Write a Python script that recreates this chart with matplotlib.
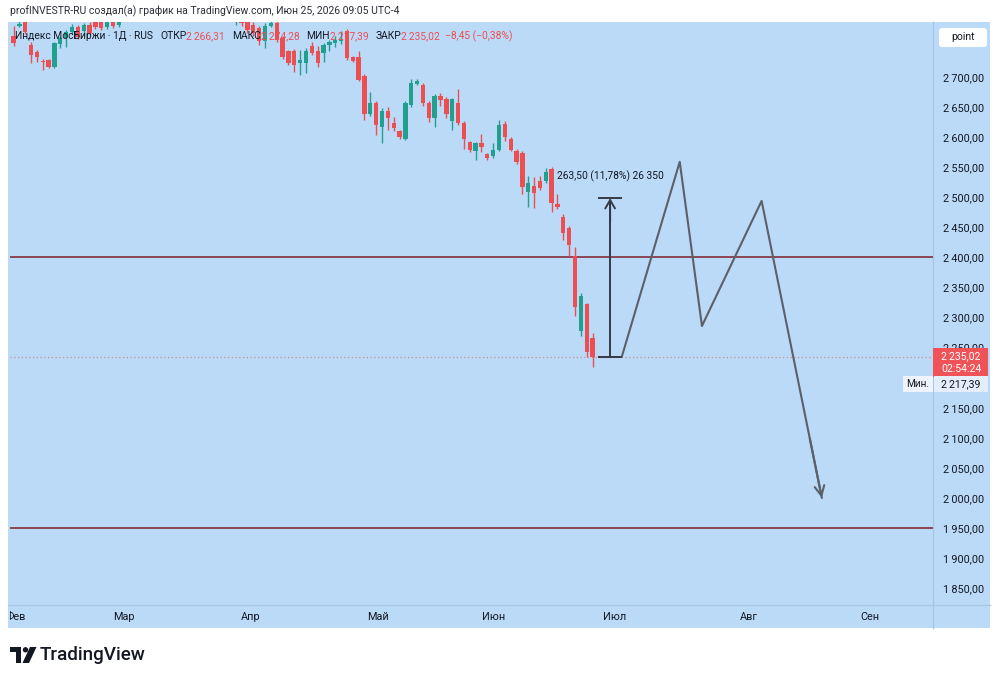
import matplotlib
matplotlib.use('Agg')
import matplotlib.pyplot as plt
from matplotlib.patches import Rectangle, FancyBboxPatch, Polygon, Circle
import numpy as np

# ---------------- data ----------------
opens = [2768, 2785, 2795, 2753, 2741, 2727, 2728, 2717, 2755, 2765, 2775, 2783, 2776, 2786, 2795, 2795, 2783, 2795, 2787,
         2805, 2820, 2830, 2845, 2840, 2850, 2868, 2860, 2845, 2852, 2848, 2830, 2840, 2825, 2832, 2820, 2815, 2808, 2812,
         2805, 2808, 2795, 2786, 2781, 2760, 2785, 2790, 2765, 2743, 2743, 2723, 2723, 2751, 2743, 2740, 2753, 2756, 2760,
         2776, 2733, 2733,
         2702, 2639, 2657, 2617, 2644, 2624, 2610, 2597, 2654, 2688, 2687, 2657, 2632, 2668, 2663, 2627, 2657, 2624, 2592,
         2577,
         2590, 2572, 2569, 2579, 2622, 2597, 2577, 2574, 2509, 2519, 2527, 2527, 2547, 2489, 2468, 2449, 2403, 2277, 2323,
         2266.31]
highs = [2785, 2795, 2800, 2758, 2745, 2730, 2730, 2758, 2768, 2778, 2788, 2786, 2790, 2792, 2800, 2800, 2800, 2800, 2800,
         2825, 2835, 2850, 2860, 2855, 2875, 2880, 2870, 2858, 2865, 2852, 2845, 2848, 2838, 2840, 2828, 2825, 2818, 2820,
         2815, 2812, 2800, 2792, 2785, 2790, 2798, 2795, 2768, 2745, 2746, 2745, 2748, 2758, 2752, 2756, 2762, 2768, 2776,
         2780, 2735, 2743,
         2705, 2675, 2660, 2648, 2650, 2633, 2612, 2660, 2697, 2697, 2690, 2660, 2672, 2673, 2667, 2665, 2680, 2627, 2594,
         2592,
         2605, 2574, 2590, 2629, 2627, 2600, 2580, 2577, 2536, 2534, 2535, 2549, 2551, 2505, 2472, 2453, 2418, 2341, 2325,
         2274.28]
lows = [2752, 2783, 2772, 2723, 2725, 2712, 2715, 2715, 2748, 2750, 2772, 2763, 2770, 2770, 2780, 2778, 2780, 2782, 2783,
        2798, 2810, 2825, 2835, 2828, 2845, 2855, 2840, 2830, 2840, 2825, 2818, 2820, 2810, 2815, 2805, 2802, 2798, 2800,
        2786, 2785, 2773, 2768, 2753, 2748, 2783, 2758, 2730, 2720, 2709, 2703, 2707, 2737, 2717, 2725, 2743, 2750, 2755,
        2728, 2725, 2693,
        2629, 2636, 2604, 2590, 2612, 2610, 2597, 2595, 2650, 2686, 2652, 2625, 2617, 2652, 2632, 2612, 2620, 2580, 2575,
        2562,
        2575, 2562, 2566, 2577, 2594, 2577, 2556, 2506, 2484, 2483, 2512, 2524, 2476, 2481, 2429, 2403, 2302, 2270, 2234,
        2217.39]
closes = [2756, 2788, 2775, 2737, 2733, 2725, 2717, 2756, 2765, 2775, 2783, 2766, 2786, 2773, 2783, 2781, 2795, 2785, 2795,
          2820, 2830, 2845, 2840, 2850, 2868, 2860, 2845, 2852, 2848, 2830, 2840, 2825, 2832, 2820, 2815, 2808, 2812, 2805,
          2808, 2790, 2778, 2773, 2760, 2785, 2790, 2762, 2733, 2723, 2720, 2728, 2743, 2740, 2723, 2753, 2758, 2761, 2764,
          2732, 2727, 2695,
          2639, 2657, 2620, 2644, 2632, 2615, 2600, 2657, 2690, 2693, 2657, 2632, 2668, 2662, 2639, 2663, 2624, 2597, 2579,
          2590,
          2584, 2566, 2579, 2620, 2600, 2579, 2559, 2517, 2524, 2507, 2516, 2542, 2491, 2484, 2441, 2421, 2318, 2336, 2243.47,
          2235.02]

months = ['Фев', 'Мар', 'Апр', 'Май', 'Июн', 'Июл', 'Авг', 'Сен']
month_bars = [0.3, 18.9, 40.6, 62.3, 82.1, 102.8, 125.7, 146.4]
price_ticks = [1850, 1900, 1950, 2000, 2050, 2100, 2150, 2250, 2300, 2350, 2400, 2450, 2500, 2550, 2600, 2650, 2700]
levels = [2400, 1950]
proj_bars = [104.0, 113.9, 117.7, 127.9, 138.2]
proj_prices = [2235, 2559, 2286, 2494, 2000]
measure_bar = 102
measure_lo = 2235.02
measure_hi = 2498.52
measure_label = '263,50 (11,78%) 26 350'
countdown = '02:54:24'
header = 'profINVESTR-RU создал(а) график на TradingView.com, Июн 25, 2026 09:05 UTC-4'
symbol = 'Индекс МосБиржи · 1Д · RUS'

# ---------------- styling ----------------
W, H = 1000, 681
BG = '#bbdaf8'
SEP = '#a6c6e6'
UP = '#22a08f'
DN = '#ec4f52'
TXT = '#131722'
plt.rcParams['font.family'] = ['Roboto', 'DejaVu Sans']


def fmt(v):
    s = f'{abs(v):,.2f}'.replace(',', '\u2009').replace('.', ',')
    return ('\u2212' if v < 0 else '') + s


fig = plt.figure(figsize=(W / 100, H / 100), dpi=100)
fig.patch.set_facecolor('white')

# background overlay (pixel coordinates)
bg = fig.add_axes([0, 0, 1, 1], zorder=0)
bg.set_xlim(0, W)
bg.set_ylim(H, 0)
bg.axis('off')
bg.add_patch(Rectangle((8, 22), 982, 606, facecolor=BG, edgecolor='none'))
bg.plot([933, 933], [22, 628], color=SEP, lw=1)
bg.plot([8, 990], [605, 605], color=SEP, lw=1)
bg.text(10, 11, header, fontsize=7.45, va='center', ha='left', color='#2a2e39')

# main price axes
ax = fig.add_axes([10 / W, 1 - 605 / H, 923 / W, 583 / H], zorder=1)
ax.patch.set_alpha(0)
ax.set_xlim(-0.6, 157.2)
ax.set_ylim(1822, 2791.5)
for sp in ax.spines.values():
    sp.set_visible(False)
ax.set_xticks([])
ax.yaxis.tick_right()
ax.set_yticks(price_ticks)
ax.set_yticklabels([fmt(v) for v in price_ticks])
ax.tick_params(axis='y', length=0, pad=7, labelsize=7.8, labelcolor=TXT)

o = np.array(opens, float)
h = np.array(highs, float)
l = np.array(lows, float)
c = np.array(closes, float)
idx = np.arange(len(o))
up = c >= o
cols = np.where(up, UP, DN)
ax.vlines(idx, l, h, colors=cols, lw=1, zorder=3)
body = np.maximum(np.abs(c - o), 1.2)
ax.bar(idx, body, bottom=np.minimum(o, c), width=0.74, color=cols, linewidth=0, zorder=4)

for lv in levels:
    ax.axhline(lv, color='#8a3a47', lw=1.3, zorder=2)
ax.axhline(closes[-1], color='#c78b97', lw=0.9, ls=(0, (1, 2)), zorder=2)

# projection path
PC = '#5c6068'
ax.plot(proj_bars, proj_prices, color=PC, lw=1.5, zorder=5, solid_capstyle='round')
ax.annotate('', xy=(proj_bars[-1], proj_prices[-1]),
            xytext=(proj_bars[-1] - 0.2 * (proj_bars[-1] - proj_bars[-2]),
                    proj_prices[-1] - 0.2 * (proj_prices[-1] - proj_prices[-2])),
            arrowprops=dict(arrowstyle='->,head_length=0.7,head_width=0.35', color=PC, lw=1.5,
                            shrinkA=0, shrinkB=0), zorder=5)

# measurement
MC = '#363a45'
ax.plot([measure_bar, measure_bar], [measure_lo, measure_hi - 5], color=MC, lw=1.4, zorder=5)
ax.hlines([measure_lo, measure_hi], measure_bar - 2, measure_bar + 2, color=MC, lw=1.4, zorder=5)
ax.annotate('', xy=(measure_bar, measure_hi), xytext=(measure_bar, measure_hi - 40),
            arrowprops=dict(arrowstyle='->,head_length=0.6,head_width=0.35', color=MC, lw=1.4,
                            shrinkA=0, shrinkB=0), zorder=5)
ax.text(92.9, 2535, measure_label, fontsize=7.4, va='center', ha='left', color=TXT, zorder=6)

# time axis band
band = fig.add_axes([10 / W, 1 - 628 / H, 923 / W, 23 / H], zorder=2)
band.set_xlim(ax.get_xlim())
band.set_ylim(0, 1)
band.axis('off')
for m, p in zip(months, month_bars):
    band.text(p, 0.5, m, ha='center', va='center', fontsize=7.8, color=TXT, clip_on=True)

# foreground overlay (labels on top)
fg = fig.add_axes([0, 0, 1, 1], zorder=3)
fg.set_xlim(0, W)
fg.set_ylim(H, 0)
fg.axis('off')

# legend line
pieces = [(symbol, TXT, 0), ('ОТКР', TXT, 5), (fmt(opens[-1]), DN, 0),
          ('МАКС', TXT, 5), (fmt(highs[-1]), DN, 0),
          ('МИН', TXT, 5), (fmt(lows[-1]), DN, 0),
          ('ЗАКР', TXT, 5), (fmt(closes[-1]), DN, 0),
          (fmt(closes[-1] - closes[-2]) + ' (' + fmt((closes[-1] - closes[-2]) / closes[-2] * 100) + '%)', DN, 4)]
prev = None
for txt, col, gap in pieces:
    if prev is None:
        prev = fg.text(15, 36, txt, fontsize=7.35, va='center', ha='left', color=col)
    else:
        prev = fg.annotate(txt, xy=(1, 0.5), xycoords=prev, xytext=(gap, 0), textcoords='offset points',
                           fontsize=7.35, va='center', ha='left', color=col)

# "point" box
fg.add_patch(FancyBboxPatch((939, 28), 48, 19, boxstyle='round,pad=0,rounding_size=3',
                            facecolor='white', edgecolor='none'))
fg.text(963, 37.5, 'point', fontsize=7.5, ha='center', va='center', color=TXT)

# last price label
fg.add_patch(Rectangle((933, 348), 55, 29, facecolor='#ef5257', edgecolor='none'))
fg.text(961, 356, fmt(closes[-1]), fontsize=7.6, ha='center', va='center', color='white')
fg.text(961, 369, countdown, fontsize=7.6, ha='center', va='center', color='white')
# low label
fg.add_patch(Rectangle((903, 376), 30, 16, facecolor='#eef4fb', edgecolor='none'))
fg.text(918, 384, 'Мин.', fontsize=7.2, ha='center', va='center', color=TXT)
fg.add_patch(Rectangle((934, 376), 54, 16, facecolor='#e4eefa', edgecolor='none'))
fg.text(961, 384, fmt(lows[-1]), fontsize=7.6, ha='center', va='center', color=TXT)

# TradingView logo
fg.add_patch(Polygon([(10, 647), (21, 647), (21, 663), (16, 663), (16, 652), (10, 652)],
                     closed=True, facecolor=TXT, edgecolor='none'))
fg.add_patch(Circle((25.5, 649.8), 2.7, facecolor=TXT, edgecolor='none'))
fg.add_patch(Polygon([(30, 647), (36.5, 647), (29, 663), (22.5, 663)],
                     closed=True, facecolor=TXT, edgecolor='none'))
fg.text(40, 655, 'TradingView', fontsize=13.6, ha='left', va='center', color=TXT, fontweight='medium')

fig.savefig('out.png', dpi=100, facecolor='white')
